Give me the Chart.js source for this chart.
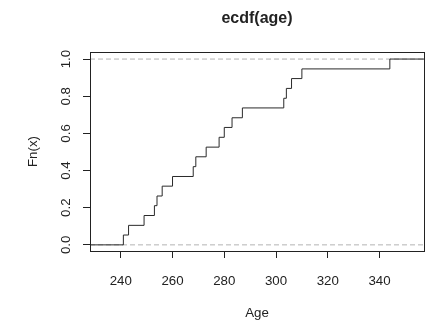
<!DOCTYPE html>
<html lang="en">
<head>
    <meta charset="UTF-8">
    <title>ecdf(age)</title>
    <style>
        body { margin: 0; background: #fff; }
        canvas { display: block; }
    </style>
</head>
<body>
    <canvas id="ecdfCanvas" width="427" height="323"></canvas>

    <script src="https://cdn.jsdelivr.net/npm/chart.js"></script>
    <script>
        // jump points of the ecdf and the value after each jump
        var knots = [241, 243, 249, 253, 254, 256, 260, 268, 269, 273, 278, 280, 283, 287, 303, 304, 306, 310, 344];
        var fnValues = [0.053, 0.105, 0.158, 0.211, 0.263, 0.316, 0.368, 0.421, 0.474, 0.526,
                        0.579, 0.632, 0.684, 0.737, 0.789, 0.842, 0.895, 0.947, 1.0];
        var xRange = [228.1, 357.2];
        var yRange = [-0.033, 1.038];
        var xTicks = [240, 260, 280, 300, 320, 340];
        var yTicks = [0, 0.2, 0.4, 0.6, 0.8, 1.0];
        var yTickLabels = ['0.0', '0.2', '0.4', '0.6', '0.8', '1.0'];
        var refLines = [0, 1];

        var FONT = "'Liberation Sans', Arial, sans-serif";
        var TXT = '#222';

        var stepData = [{x: xRange[0] - 5, y: 0}];
        knots.forEach(function(k, i) { stepData.push({x: k, y: fnValues[i]}); });
        stepData.push({x: xRange[1] + 5, y: 1});

        var datasets = [{
            data: stepData,
            stepped: true,
            borderColor: '#2a2a2a',
            borderWidth: 1,
            pointRadius: 0,
            fill: false
        }];
        refLines.forEach(function(v) {
            datasets.push({
                data: [{x: xRange[0], y: v}, {x: xRange[1], y: v}],
                borderColor: '#b3b3b3',
                borderWidth: 1,
                borderDash: [5, 3],
                pointRadius: 0,
                fill: false
            });
        });

        var boxAndLabels = {
            id: 'boxAndLabels',
            beforeDraw: function(chart) {
                var c = chart.ctx;
                c.save();
                c.fillStyle = '#fff';
                c.fillRect(0, 0, chart.width, chart.height);
                c.restore();
            },
            afterDraw: function(chart) {
                var c = chart.ctx, a = chart.chartArea, ys = chart.scales.y;
                c.save();
                c.strokeStyle = '#222';
                c.lineWidth = 1;
                c.strokeRect(Math.round(a.left) + 0.5, Math.round(a.top) + 0.5,
                             Math.round(a.right - a.left), Math.round(a.bottom - a.top));
                c.fillStyle = TXT;
                c.font = '13.3px ' + FONT;
                c.textAlign = 'center';
                c.textBaseline = 'middle';
                yTicks.forEach(function(v, i) {
                    c.save();
                    c.translate(a.left - 24, ys.getPixelForValue(v));
                    c.rotate(-Math.PI / 2);
                    c.fillText(yTickLabels[i], 0, 0);
                    c.restore();
                });
                c.restore();
            }
        };

        new Chart(document.getElementById('ecdfCanvas').getContext('2d'), {
            type: 'line',
            data: { datasets: datasets },
            plugins: [boxAndLabels],
            options: {
                responsive: false,
                animation: false,
                layout: { padding: { left: 0, right: 3, top: 0, bottom: 0 } },
                plugins: {
                    legend: { display: false },
                    tooltip: { enabled: false },
                    title: {
                        display: true,
                        text: 'ecdf(age)',
                        fullSize: false,
                        color: TXT,
                        font: { family: FONT, size: 16, weight: 'bold', lineHeight: 1.2 },
                        padding: { top: 9, bottom: 23.8 }
                    }
                },
                scales: {
                    x: {
                        type: 'linear',
                        min: xRange[0],
                        max: xRange[1],
                        afterBuildTicks: function(s) { s.ticks = xTicks.map(function(v) { return {value: v}; }); },
                        afterFit: function(s) { s.height = 72; },
                        border: { display: false },
                        grid: { display: true, drawOnChartArea: false, drawTicks: true, tickLength: 7, color: '#222' },
                        ticks: {
                            color: TXT,
                            padding: 15,
                            maxRotation: 0,
                            font: { family: FONT, size: 13.3 }
                        },
                        title: {
                            display: true,
                            text: 'Age',
                            color: TXT,
                            font: { family: FONT, size: 13.3, lineHeight: 1.2 },
                            padding: { top: 0, bottom: 2 }
                        }
                    },
                    y: {
                        type: 'linear',
                        min: yRange[0],
                        max: yRange[1],
                        afterBuildTicks: function(s) { s.ticks = yTicks.map(function(v) { return {value: v}; }); },
                        afterFit: function(s) { s.width = 90; },
                        border: { display: false },
                        grid: { display: true, drawOnChartArea: false, drawTicks: true, tickLength: 7, color: '#222' },
                        ticks: { display: false },
                        title: {
                            display: true,
                            text: 'Fn(x)',
                            color: TXT,
                            font: { family: FONT, size: 13.3, lineHeight: 1.2 },
                            padding: { top: 25, bottom: 0 }
                        }
                    }
                }
            }
        });
    </script>
</body>
</html>
